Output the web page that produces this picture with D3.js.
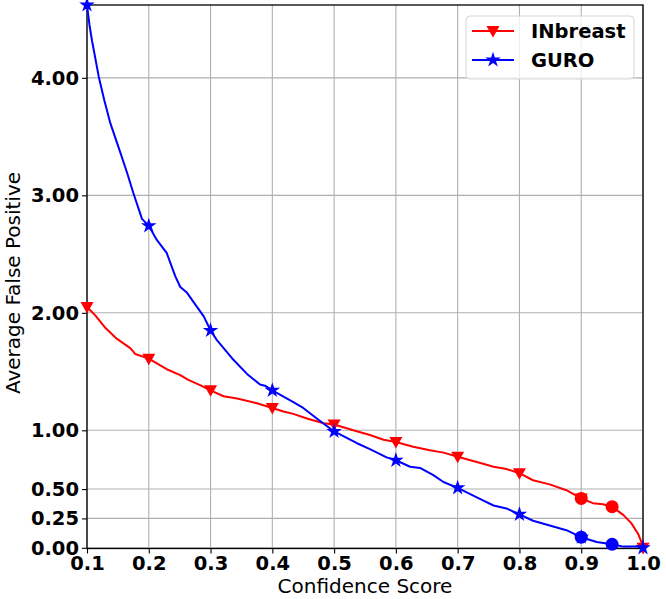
<!DOCTYPE html>
<html><head><meta charset="utf-8">
<script src="https://cdn.jsdelivr.net/npm/d3@7"></script>
<style>body{margin:0;background:#fff}svg{display:block}</style>
</head><body><div id="chart"></div>
<script>
// ---- data ----
const seriesNames = ["INbreast", "GURO"];
const seriesColors = ["#ff0000", "#0000ff"];
const inbreastX = [0.1,0.113,0.13,0.148,0.17,0.178,0.2,0.229,0.251,0.264,0.283,0.3,0.321,0.343,0.375,0.4,0.418,0.434,0.456,0.483,0.5,0.531,0.558,0.58,0.6,0.628,0.655,0.677,0.7,0.731,0.758,0.779,0.8,0.822,0.849,0.876,0.9,0.919,0.935,0.95,0.968,0.981,0.992,0.999,1.0];
const inbreastY = [2.05,1.98,1.87,1.78,1.70,1.65,1.61,1.52,1.47,1.43,1.385,1.34,1.29,1.27,1.23,1.19,1.16,1.14,1.10,1.06,1.05,1.00,0.96,0.92,0.90,0.86,0.83,0.81,0.775,0.73,0.69,0.67,0.635,0.575,0.54,0.49,0.42,0.38,0.37,0.35,0.28,0.21,0.12,0.03,0.0];
const guroX = [0.1,0.104,0.108,0.119,0.128,0.138,0.151,0.165,0.175,0.189,0.2,0.213,0.229,0.243,0.251,0.262,0.278,0.289,0.3,0.31,0.337,0.359,0.38,0.388,0.4,0.434,0.45,0.472,0.5,0.537,0.558,0.585,0.6,0.623,0.639,0.66,0.677,0.7,0.731,0.758,0.779,0.8,0.822,0.849,0.876,0.9,0.925,0.95,0.968,0.997,1.0];
const guroY = [4.62,4.45,4.32,4.01,3.81,3.61,3.41,3.19,3.02,2.80,2.74,2.62,2.51,2.31,2.22,2.17,2.05,1.97,1.85,1.77,1.60,1.48,1.39,1.38,1.34,1.24,1.19,1.10,0.99,0.89,0.84,0.77,0.745,0.69,0.68,0.62,0.56,0.51,0.43,0.36,0.335,0.285,0.23,0.19,0.15,0.09,0.05,0.03,0.01,0.01,0.0];
const markerX = [0.1,0.2,0.3,0.4,0.5,0.6,0.7,0.8,0.9,1.0];
const circleX = [0.9,0.95];
const xTicks = [0.1,0.2,0.3,0.4,0.5,0.6,0.7,0.8,0.9,1.0];
const yTicks = [0,0.25,0.5,1,2,3,4];

// ---- layout ----
const W = 666, H = 599;
const m = {left: 87, right: 23, top: 5, bottom: 51};
const svg = d3.select("#chart").append("svg").attr("width", W).attr("height", H);
const x = d3.scaleLinear().domain([0.1, 1.0]).range([m.left, W - m.right]);
const y = d3.scaleLinear().domain([-0.006, 4.62]).range([H - m.bottom + 0.5, m.top]);

const FONT = "DejaVu Sans, sans-serif";

// grid
const g = svg.append("g");
g.selectAll("line.gx").data(xTicks).join("line")
  .attr("x1", d => x(d)).attr("x2", d => x(d)).attr("y1", y.range()[0]).attr("y2", y.range()[1])
  .attr("stroke", "#b0b0b0").attr("stroke-width", 1.1);
g.selectAll("line.gy").data(yTicks).join("line")
  .attr("y1", d => y(d)).attr("y2", d => y(d)).attr("x1", x.range()[0]).attr("x2", x.range()[1])
  .attr("stroke", "#b0b0b0").attr("stroke-width", 1.1);

// axes
const xAxis = svg.append("g").attr("transform", `translate(0,${y.range()[0]})`)
  .call(d3.axisBottom(x).tickValues(xTicks).tickFormat(d3.format(".1f")).tickSize(5).tickPadding(3));
const yAxis = svg.append("g").attr("transform", `translate(${x.range()[0]},0)`)
  .call(d3.axisLeft(y).tickValues(yTicks).tickFormat(d3.format(".2f")).tickSize(5).tickPadding(3));
[xAxis, yAxis].forEach(a => {
  a.select(".domain").remove();
  a.selectAll("text").attr("font-family", FONT).attr("font-weight", "bold").attr("font-size", 19.5).attr("fill", "#000");
  a.selectAll("line").attr("stroke", "#000").attr("stroke-width", 1.1);
});

// frame
svg.append("rect").attr("x", x.range()[0]).attr("y", y.range()[1])
  .attr("width", x.range()[1] - x.range()[0]).attr("height", y.range()[0] - y.range()[1])
  .attr("fill", "none").attr("stroke", "#000").attr("stroke-width", 1.3);

// lines
const line = d3.line().x(d => x(d[0])).y(d => y(d[1])).curve(d3.curveLinear);
const series = [
  {name: seriesNames[0], color: seriesColors[0], xs: inbreastX, ys: inbreastY, marker: "tri"},
  {name: seriesNames[1], color: seriesColors[1], xs: guroX, ys: guroY, marker: "star"}
];
svg.append("clipPath").attr("id", "clip").append("rect")
  .attr("x", x.range()[0] - 8).attr("y", y.range()[1] - 8)
  .attr("width", x.range()[1] - x.range()[0] + 16).attr("height", y.range()[0] - y.range()[1] + 16);

const triPath = "M-6.5,-5 L6.5,-5 L0,6.5 Z";
const starPath = d3.symbol().type(d3.symbolStar).size(75)();

function interp(xs, ys, v) {
  for (let i = 0; i < xs.length - 1; i++) {
    if (v >= xs[i] && v <= xs[i+1]) {
      const t = (v - xs[i]) / (xs[i+1] - xs[i] || 1);
      return ys[i] + t * (ys[i+1] - ys[i]);
    }
  }
  return ys[ys.length - 1];
}

const plot = svg.append("g").attr("clip-path", "url(#clip)");
series.forEach(s => {
  const pts = s.xs.map((v, i) => [v, s.ys[i]]);
  plot.append("path").datum(pts).attr("d", line).attr("fill", "none")
    .attr("stroke", s.color).attr("stroke-width", 2).attr("stroke-linejoin", "round");
  plot.selectAll(null).data(markerX).join("path")
    .attr("transform", d => `translate(${x(d)},${y(interp(s.xs, s.ys, d))})`)
    .attr("d", s.marker === "tri" ? triPath : starPath).attr("fill", s.color);
  plot.selectAll(null).data(circleX).join("circle")
    .attr("cx", d => x(d)).attr("cy", d => y(interp(s.xs, s.ys, d))).attr("r", 6.5).attr("fill", s.color);
});

// legend
const lg = svg.append("g");
lg.append("rect").attr("x", 466).attr("y", 16).attr("width", 168).attr("height", 63).attr("rx", 4)
  .attr("fill", "#fff").attr("fill-opacity", 0.8).attr("stroke", "#d6d6d6").attr("stroke-width", 1);
series.forEach((s, i) => {
  const yy = 31 + i * 29;
  lg.append("line").attr("x1", 472).attr("x2", 514).attr("y1", yy).attr("y2", yy)
    .attr("stroke", s.color).attr("stroke-width", 2);
  lg.append("path").attr("transform", `translate(493,${yy})`)
    .attr("d", s.marker === "tri" ? triPath : starPath).attr("fill", s.color);
  lg.append("text").attr("x", 531).attr("y", yy + 7).text(s.name)
    .attr("font-family", FONT).attr("font-weight", "bold").attr("font-size", 19.5).attr("fill", "#000");
});

// axis labels
svg.append("text").attr("x", (x.range()[0] + x.range()[1]) / 2).attr("y", 593)
  .attr("text-anchor", "middle").attr("font-family", FONT).attr("font-size", 20).text("Confidence Score");
svg.append("text").attr("transform", `translate(20,283) rotate(-90)`)
  .attr("text-anchor", "middle").attr("font-family", FONT).attr("font-size", 20).text("Average False Positive");
</script></body></html>
